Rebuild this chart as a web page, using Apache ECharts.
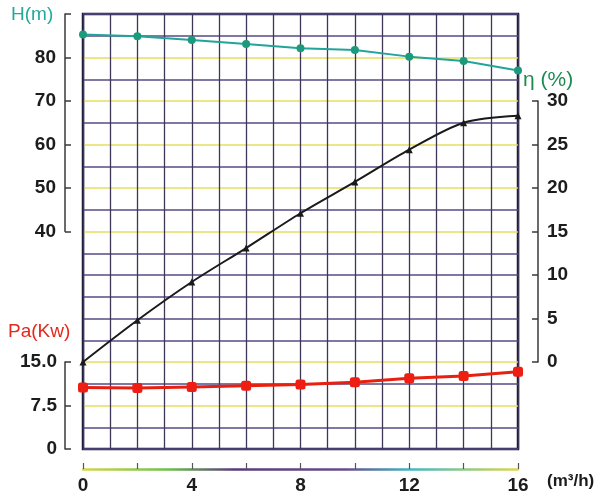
<!DOCTYPE html>
<html>
<head>
<meta charset="utf-8">
<script src="https://cdn.jsdelivr.net/npm/echarts@6/dist/echarts.min.js"></script>
<style>
  html, body { margin: 0; padding: 0; background: #fff; }
  #chart { width: 598px; height: 495px; }
</style>
</head>
<body>
<div id="chart"></div>
<script>
// pump curves: flow (m3/h) vs head, efficiency, shaft power
var flow = [0, 2, 4, 6, 8, 10, 12, 14, 16];
var head = [85.3, 84.9, 84.0, 83.1, 82.1, 81.7, 80.2, 79.2, 77.0];
var eff = [0, 4.8, 9.2, 13.1, 17.1, 20.7, 24.4, 27.5, 28.3];
var power = [10.6, 10.5, 10.7, 10.9, 11.1, 11.5, 12.2, 12.6, 13.3];
var flowLabels = [0, 4, 8, 12, 16];

function pairs(xs, ys) {
  return xs.map(function(x, i) { return [x, ys[i]]; });
}

var LIGHT = '#e6de62', DARK = '#574a86';
var labelFont = { fontFamily: 'Liberation Sans', fontSize: 19, fontWeight: 'bold', color: '#1c1c1c' };
var axisLn = { show: true, onZero: false, lineStyle: { color: '#3a3a3a', width: 1.5 } };
var axisTk = { show: true, inside: true, length: 6, lineStyle: { color: '#3a3a3a', width: 1.5 } };

var chart = echarts.init(document.getElementById('chart'));

var option = {
  animation: false,
  grid: [
    { left: 83, top: 14, width: 435, height: 435, show: true, borderColor: '#1c1a3c', borderWidth: 2.5, backgroundColor: 'transparent' },
    { left: 83, top: 14, width: 435, height: 217.5 },
    { left: 83, top: 101, width: 435, height: 261 },
    { left: 83, top: 362, width: 435, height: 87 }
  ],
  xAxis: [
    { gridIndex: 0, type: 'value', min: 0, max: 16, interval: 1, axisLine: { show: false }, axisTick: { show: false }, axisLabel: { show: false },
      splitLine: { show: true, lineStyle: { color: '#3e3654', width: 1.3 } } },
    { gridIndex: 1, type: 'value', min: 0, max: 16, show: false },
    { gridIndex: 2, type: 'value', min: 0, max: 16, show: false },
    { gridIndex: 3, type: 'value', min: 0, max: 16, interval: 2, offset: 20,
      axisLine: { show: true, onZero: false, lineStyle: { width: 2.5, color: new echarts.graphic.LinearGradient(0, 0, 1, 0, [
        { offset: 0, color: '#d8d84a' }, { offset: 0.2, color: '#6cc04a' }, { offset: 0.35, color: '#5a3a7a' },
        { offset: 0.6, color: '#6a4a8a' }, { offset: 0.75, color: '#40b8c0' }, { offset: 1, color: '#e0d84a' }]) } },
      axisTick: { show: true, inside: true, length: 6, lineStyle: { color: '#555', width: 1.2 } },
      axisLabel: Object.assign({ margin: 7, formatter: function(v) { return flowLabels.indexOf(v) >= 0 ? String(v) : ''; } }, labelFont),
      splitLine: { show: false } }
  ],
  yAxis: [
    { gridIndex: 0, type: 'value', min: 0, max: 20, interval: 1, axisLine: { show: false }, axisTick: { show: false }, axisLabel: { show: false },
      splitLine: { show: true, lineStyle: { width: 1.6, color: [
        DARK, DARK, LIGHT, DARK, LIGHT, DARK, DARK, DARK, DARK, DARK, LIGHT,
        DARK, LIGHT, DARK, LIGHT, DARK, LIGHT, DARK, LIGHT, DARK, DARK] } } },
    { gridIndex: 1, type: 'value', position: 'left', offset: 18, min: 40, max: 90, interval: 10,
      axisLine: axisLn, axisTick: axisTk,
      axisLabel: Object.assign({ margin: 9, formatter: function(v) { return v === 90 ? '' : String(v); } }, labelFont),
      splitLine: { show: false } },
    { gridIndex: 2, type: 'value', position: 'right', offset: 20, min: 0, max: 30, interval: 5,
      axisLine: axisLn, axisTick: axisTk,
      axisLabel: Object.assign({ margin: 9 }, labelFont),
      splitLine: { show: false } },
    { gridIndex: 3, type: 'value', position: 'left', offset: 18, min: 0, max: 15, interval: 7.5,
      axisLine: axisLn, axisTick: axisTk,
      axisLabel: Object.assign({ margin: 8, formatter: function(v) { return v === 15 ? '15.0' : String(v); } }, labelFont),
      splitLine: { show: false } }
  ],
  graphic: [
    { type: 'text', left: 11, top: 5, style: { text: 'H(m)', fill: '#25a89c', font: '19px "Liberation Sans"' } },
    { type: 'text', left: 523, top: 70, style: { text: 'η (%)', fill: '#1e8c52', font: '21px "Liberation Sans"' } },
    { type: 'text', left: 8, top: 322, style: { text: 'Pa(Kw)', fill: '#e4281c', font: '19px "Liberation Sans"' } },
    { type: 'text', left: 547, top: 473, style: { text: '(m³/h)', fill: '#1c1c1c', font: 'bold 17px "Liberation Sans"' } }
  ],
  series: [
    { name: 'H', type: 'line', xAxisIndex: 1, yAxisIndex: 1, data: pairs(flow, head),
      lineStyle: { color: '#22a49a', width: 2 }, symbol: 'circle', symbolSize: 8,
      itemStyle: { color: '#1b9a7c' } },
    { name: 'η', type: 'line', xAxisIndex: 2, yAxisIndex: 2, data: pairs(flow, eff), smooth: 0.3,
      lineStyle: { color: '#1a1a1a', width: 2 }, symbol: 'triangle', symbolSize: 7,
      itemStyle: { color: '#1a1a1a' } },
    { name: 'Pa', type: 'line', xAxisIndex: 3, yAxisIndex: 3, data: pairs(flow, power),
      lineStyle: { color: '#e8200f', width: 3 }, symbol: 'roundRect', symbolSize: 10,
      itemStyle: { color: '#ee1e12' } }
  ]
};

chart.setOption(option);
</script>
</body>
</html>
